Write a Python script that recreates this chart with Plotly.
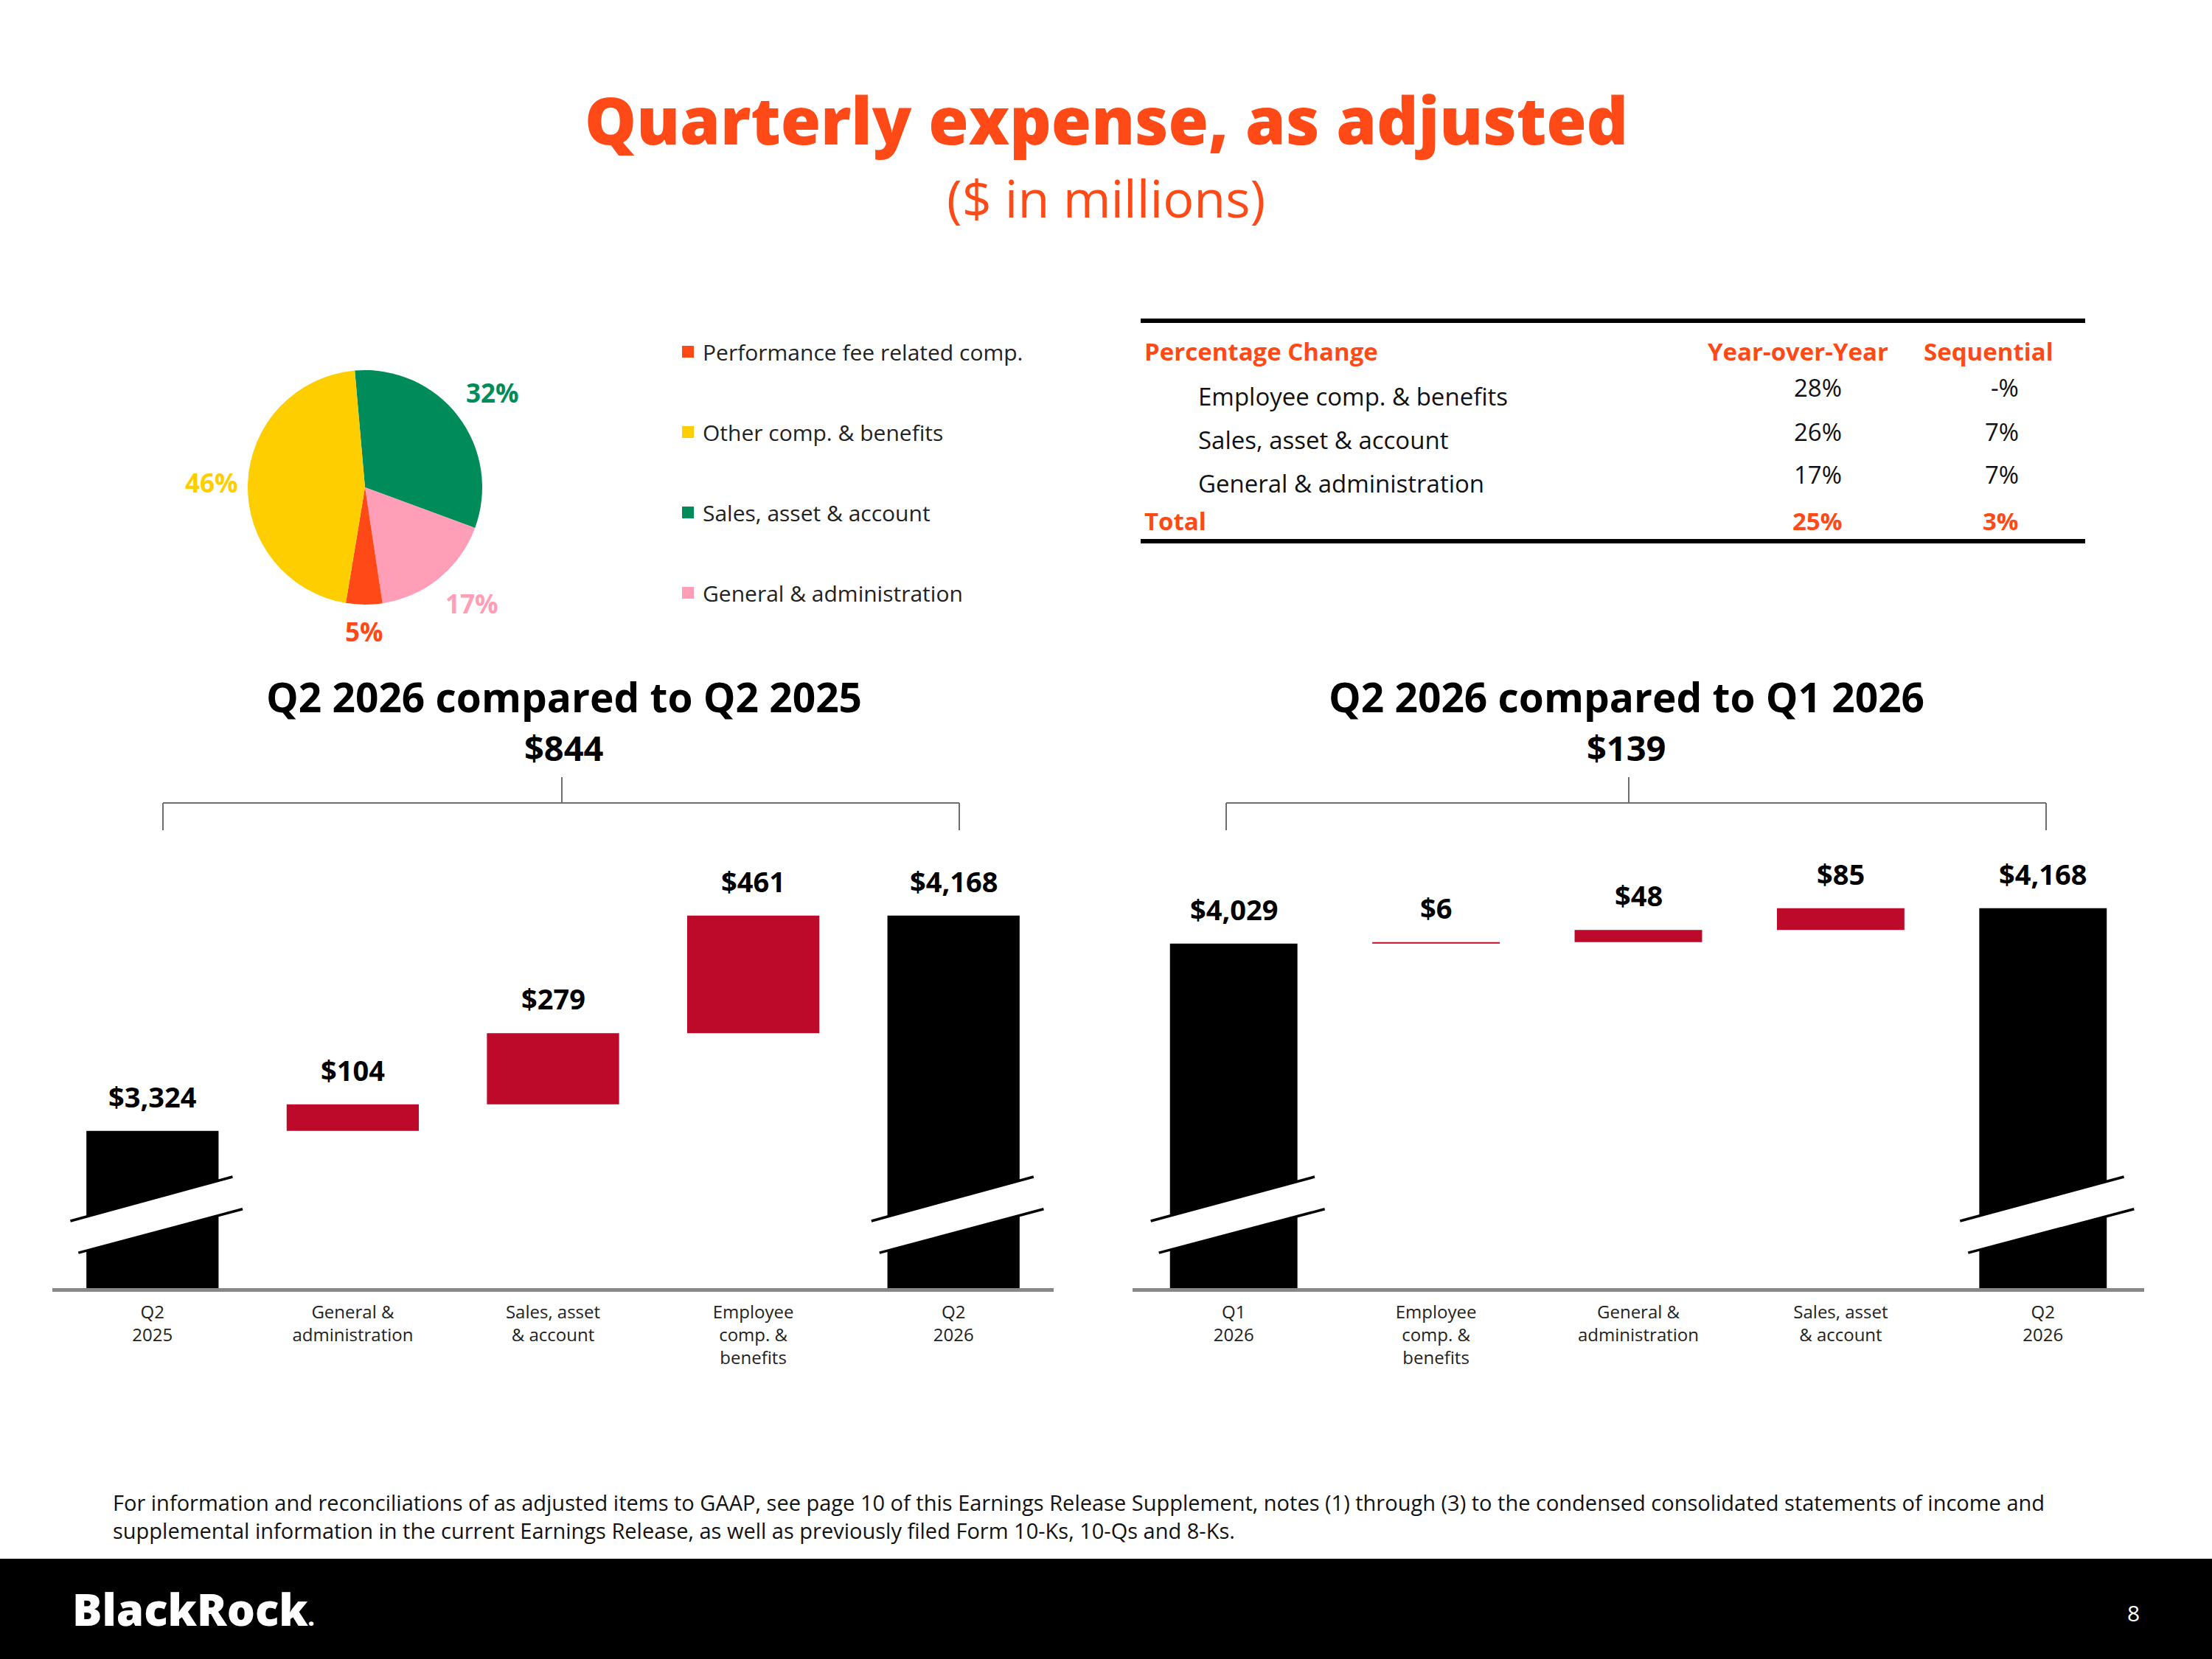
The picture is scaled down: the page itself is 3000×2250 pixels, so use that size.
import math
import plotly.graph_objects as go

W, H = 3000, 2250
FONT = "Open Sans"
ORANGE = "#FF4A17"
RED = "#BE0A2A"
GRAY = "#888888"

# ---------------- data ----------------
pie_labels = ["Sales, asset & account", "General & administration",
              "Performance fee related comp.", "Other comp. & benefits"]
pie_values = [32, 17, 5, 46]
pie_colors = ["#008C5A", "#FF9EB6", "#FF4A17", "#FFCE00"]

legend_names = ["Performance fee related comp.", "Other comp. & benefits",
                "Sales, asset & account", "General & administration"]
legend_colors = ["#FF4A17", "#FFCE00", "#008C5A", "#FF9EB6"]

table_header = ["Percentage Change", "Year-over-Year", "Sequential"]
table_rows = ["Employee comp. & benefits", "Sales, asset & account", "General & administration"]
yoy_change = ["28%", "26%", "17%"]
seq_change = ["-%", "7%", "7%"]
total_label = "Total"
total_yoy = "25%"
total_seq = "3%"

wf1_title = "Q2 2026 compared to Q2 2025"
wf1_cats = ["Q2<br>2025", "General &<br>administration", "Sales, asset<br>& account",
            "Employee<br>comp. &<br>benefits", "Q2<br>2026"]
wf1_values = [3324, 104, 279, 461, 4168]
wf1_measure = ["absolute", "relative", "relative", "relative", "total"]

wf2_title = "Q2 2026 compared to Q1 2026"
wf2_cats = ["Q1<br>2026", "Employee<br>comp. &<br>benefits", "General &<br>administration",
            "Sales, asset<br>& account", "Q2<br>2026"]
wf2_values = [4029, 6, 48, 85, 4168]
wf2_measure = ["absolute", "relative", "relative", "relative", "total"]

footnote_lines = [
    "For information and reconciliations of as adjusted items to GAAP, see page 10 of this Earnings "
    "Release Supplement, notes (1) through (3) to the condensed consolidated statements of income and",
    "supplemental information in the current Earnings Release, as well as previously filed Form 10-Ks, 10-Qs and 8-Ks.",
]


def px(x):
    return x / W


def py(y):
    return 1 - y / H


fig = go.Figure()
annotations = []
shapes = []

# ---------------- pie ----------------
PIE_C = (495, 661)
PIE_R = 159
PIE_ROT = -5
fig.add_trace(go.Pie(
    labels=pie_labels, values=pie_values, sort=False, direction="clockwise", rotation=PIE_ROT,
    marker=dict(colors=pie_colors, line=dict(width=0)), textinfo="none",
    domain=dict(x=[px(PIE_C[0] - PIE_R), px(PIE_C[0] + PIE_R)],
                y=[py(PIE_C[1] + PIE_R), py(PIE_C[1] - PIE_R)]),
    showlegend=False, hoverinfo="skip",
))
total = sum(pie_values)
cum = 0
for v, c in zip(pie_values, pie_colors):
    mid = math.radians(PIE_ROT + (cum + v / 2) / total * 360)
    cum += v
    dx, dy = math.sin(mid), -math.cos(mid)
    dist = PIE_R + 12
    xa = "left" if dx > 0.35 else ("right" if dx < -0.35 else "center")
    ya = "bottom" if dy < -0.35 else ("top" if dy > 0.35 else "middle")
    annotations.append(dict(x=px(PIE_C[0] + dist * dx), y=py(PIE_C[1] + dist * dy),
                            xref="paper", yref="paper", text=f"{v}%", showarrow=False,
                            xanchor=xa, yanchor=ya, borderpad=0,
                            font=dict(family=FONT, size=35, color=c, weight=700)))

for n, c in zip(legend_names, legend_colors):
    fig.add_trace(go.Scatter(
        x=[None], y=[None], mode="markers", name=n, legendgroup=n,
        marker=dict(symbol="square", size=16, color=c), xaxis="x", yaxis="y",
    ))

# ---------------- waterfalls ----------------
def cum_tops(values, measure):
    tops, run = [], 0
    for v, m in zip(values, measure):
        if m == "absolute":
            run = v
        elif m == "relative":
            run += v
        tops.append(run)
    return tops


charts = [
    dict(cats=wf1_cats, vals=wf1_values, meas=wf1_measure, title=wf1_title,
         xa="x", ya="y", xdom=[px(71), px(1429)], yr=[2708, 4439], width=0.66,
         title_x=765, br=(221, 1301), stem=762),
    dict(cats=wf2_cats, vals=wf2_values, meas=wf2_measure, title=wf2_title,
         xa="x2", ya="y2", xdom=[px(1536), px(2908)], yr=[2679, 4410], width=0.63,
         title_x=2206, br=(1663, 2775), stem=2209),
]
ydom = [py(1747), py(1148)]

for ch in charts:
    xs = list(range(len(ch["cats"])))
    fig.add_trace(go.Waterfall(
        x=xs, y=ch["vals"], measure=ch["meas"], xaxis=ch["xa"], yaxis=ch["ya"],
        width=[ch["width"]] * len(xs),
        increasing=dict(marker=dict(color=RED, line=dict(width=0))),
        decreasing=dict(marker=dict(color=RED, line=dict(width=0))),
        totals=dict(marker=dict(color="#000000", line=dict(width=0))),
        connector=dict(visible=False), showlegend=False, hoverinfo="skip",
    ))
    tops = cum_tops(ch["vals"], ch["meas"])
    for i, (t, v, m) in enumerate(zip(tops, ch["vals"], ch["meas"])):
        lab = t if m != "relative" else v
        annotations.append(dict(
            x=i, y=t, xref=ch["xa"], yref=ch["ya"], text=f"${lab:,}", showarrow=False,
            yanchor="bottom", yshift=20, borderpad=0,
            font=dict(family=FONT, size=38, color="#000", weight=700)))
    # axis break marks on the black bars
    lo, hi = ch["yr"]
    fy = lambda f: lo + f * (hi - lo)
    for i, m in enumerate(ch["meas"]):
        if m == "relative":
            continue
        ul, ur = (i - 0.41, fy(0.152)), (i + 0.40, fy(0.252))
        ll, lr = (i - 0.37, fy(0.080)), (i + 0.45, fy(0.179))
        shapes.append(dict(type="path", xref=ch["xa"], yref=ch["ya"],
                           path=f"M {ul[0]},{ul[1]} L {ur[0]},{ur[1]} L {lr[0]},{lr[1]} L {ll[0]},{ll[1]} Z",
                           fillcolor="white", line=dict(width=0)))
        for a, b in ((ul, ur), (ll, lr)):
            shapes.append(dict(type="line", xref=ch["xa"], yref=ch["ya"],
                               x0=a[0], y0=a[1], x1=b[0], y1=b[1], line=dict(color="#000", width=3.5)))
    # section title and change
    change = tops[-1] - tops[0]
    annotations.append(dict(x=px(ch["title_x"]), y=py(945), xref="paper", yref="paper", text=ch["title"],
                            showarrow=False, xanchor="center", yanchor="middle",
                            font=dict(family=FONT, size=55, color="#000", weight=700)))
    annotations.append(dict(x=px(ch["title_x"]), y=py(1014), xref="paper", yref="paper", text=f"${change:,}",
                            showarrow=False, xanchor="center", yanchor="middle",
                            font=dict(family=FONT, size=47, color="#000", weight=700)))
    # bracket
    bl = dict(color="#6E6E6E", width=2)
    b0, b1 = ch["br"]
    shapes.append(dict(type="line", xref="paper", yref="paper", x0=px(b0), x1=px(b1),
                       y0=py(1089), y1=py(1089), line=bl))
    shapes.append(dict(type="line", xref="paper", yref="paper", x0=px(ch["stem"]), x1=px(ch["stem"]),
                       y0=py(1054), y1=py(1089), line=bl))
    for xe in (b0, b1):
        shapes.append(dict(type="line", xref="paper", yref="paper", x0=px(xe), x1=px(xe),
                           y0=py(1089), y1=py(1126), line=bl))


def xaxis(dom, cats, anchor):
    return dict(domain=dom, range=[-0.5, len(cats) - 0.5], tickvals=list(range(len(cats))),
                ticktext=cats, showgrid=False, zeroline=False, showline=True, linecolor=GRAY,
                linewidth=5, ticks="", ticklabelstandoff=7, anchor=anchor, fixedrange=True,
                tickfont=dict(family=FONT, size=24, color="#222"))


def yaxis(rng, anchor):
    return dict(domain=ydom, range=rng, visible=False, showgrid=False, zeroline=False, anchor=anchor)


# ---------------- table ----------------
def tann(x, y, text, color="#111", bold=False, xanchor="left", size=33):
    annotations.append(dict(x=px(x), y=py(y), xref="paper", yref="paper", text=text, showarrow=False,
                            xanchor=xanchor, yanchor="middle",
                            font=dict(family=FONT, size=size, color=color, weight=700 if bold else 400)))


tann(1550, 477, table_header[0], ORANGE, True)
tann(2438, 477, table_header[1], ORANGE, True, "center")
tann(2697, 477, table_header[2], ORANGE, True, "center")
row_y = [537, 596, 655]
for ry, lab, a, b in zip(row_y, table_rows, yoy_change, seq_change):
    tann(1623, ry, lab)
    tann(2500, ry - 11, a, xanchor="right")
    tann(2740, ry - 11, b, xanchor="right")
tann(1550, 707, total_label, ORANGE, True)
tann(2500, 707, total_yoy, ORANGE, True, "right")
tann(2740, 707, total_seq, ORANGE, True, "right")
for yy in (435, 734):
    shapes.append(dict(type="line", xref="paper", yref="paper", x0=px(1547), x1=px(2828),
                       y0=py(yy), y1=py(yy), line=dict(color="#000", width=6)))

# ---------------- titles ----------------
annotations.append(dict(x=0.5, y=py(162), xref="paper", yref="paper", text="Quarterly expense, as adjusted",
                        showarrow=False, xanchor="center", yanchor="middle",
                        font=dict(family=FONT, size=88, color=ORANGE, weight=800)))
annotations.append(dict(x=0.5, y=py(268), xref="paper", yref="paper", text="($ in millions)",
                        showarrow=False, xanchor="center", yanchor="middle",
                        font=dict(family=FONT, size=70, color=ORANGE)))

# ---------------- footer ----------------
annotations.append(dict(x=px(151), y=py(2056), xref="paper", yref="paper", text="<br>".join(footnote_lines),
                        showarrow=False, xanchor="left", yanchor="middle", align="left",
                        font=dict(family=FONT, size=29, color="#111")))
shapes.append(dict(type="rect", xref="paper", yref="paper", x0=0, x1=1, y0=0, y1=py(2114),
                   fillcolor="#000", line=dict(width=0), layer="below"))
annotations.append(dict(x=px(96), y=py(2182), xref="paper", yref="paper",
                        text="BlackRock<span style='font-size:30px'>.</span>", showarrow=False,
                        xanchor="left", yanchor="middle",
                        font=dict(family=FONT, size=60, color="#fff", weight=800)))
annotations.append(dict(x=px(2893), y=py(2187), xref="paper", yref="paper", text="8", showarrow=False,
                        xanchor="center", yanchor="middle", font=dict(family=FONT, size=30, color="#fff")))

fig.update_layout(
    width=W, height=H, margin=dict(l=0, r=0, t=0, b=0),
    paper_bgcolor="white", plot_bgcolor="rgba(0,0,0,0)",
    xaxis=xaxis(charts[0]["xdom"], wf1_cats, "y"),
    yaxis=yaxis(charts[0]["yr"], "x"),
    xaxis2=xaxis(charts[1]["xdom"], wf2_cats, "y2"),
    yaxis2=yaxis(charts[1]["yr"], "x2"),
    legend=dict(x=px(913), y=py(451), xanchor="left", yanchor="top", tracegroupgap=67,
                font=dict(family=FONT, size=30, color="#222"), bgcolor="rgba(0,0,0,0)", itemsizing="trace"),
    annotations=annotations, shapes=shapes, showlegend=True,
)

fig.write_html("out.html", config={"displayModeBar": False},
               post_script="document.body.style.margin='0px';")
